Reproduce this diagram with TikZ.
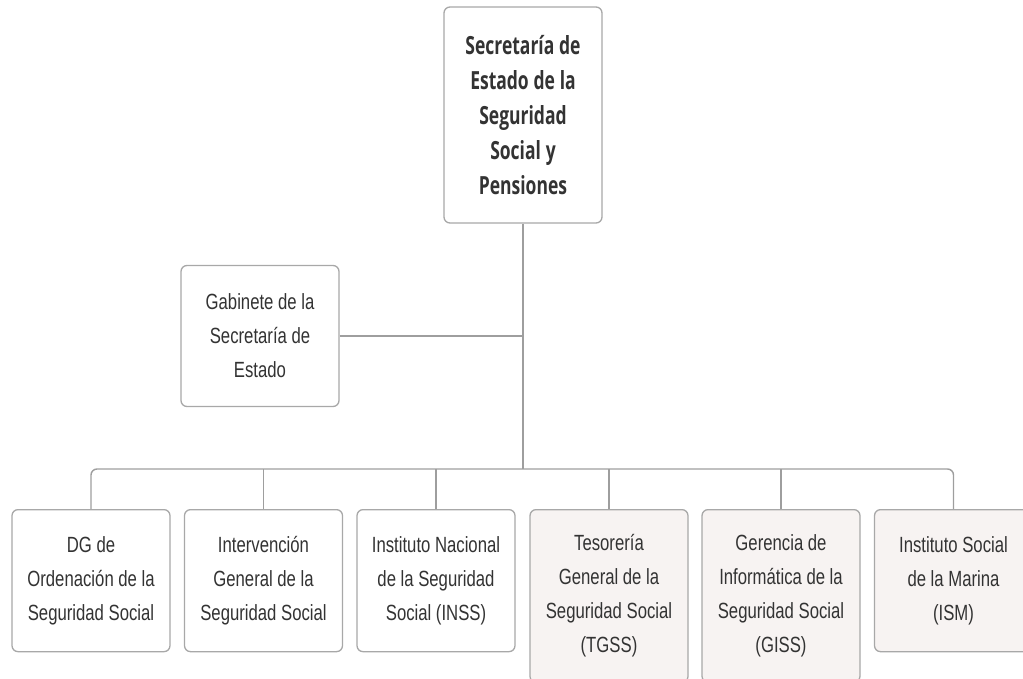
\documentclass[tikz,border=0pt]{standalone}
\usepackage{fontspec}
\setmainfont{Liberation Sans}
\newfontfamily\unitfont[FakeStretch=0.76]{Liberation Sans}
\newfontfamily\headfont[FakeStretch=0.70]{Open Sans}
\newcommand\unittext{\unitfont\fontsize{22}{34}\selectfont\spaceskip4.6pt\relax\xspaceskip4.6pt\relax}
\newcommand\headtext{\headfont\bfseries\fontsize{25}{35}\selectfont\spaceskip4.8pt\relax\xspaceskip4.8pt\relax}
\definecolor{txt}{HTML}{333333}
\definecolor{edge}{HTML}{A8A8A8}
\definecolor{wire}{HTML}{9E9E9E}
\definecolor{tint}{HTML}{F7F3F2}
\begin{document}
\begin{tikzpicture}[x=1pt,y=1pt,
unit/.style={draw=edge, line width=1.3pt, rounded corners=6pt, fill=white, text=txt, align=flush center, text width=150pt, inner xsep=4pt, inner ysep=25pt, font=\unittext},
agency/.style={unit, fill=tint},
link/.style={draw=wire, line width=1.4pt}]
\useasboundingbox (0,0) rectangle (1023,-679);
\node[unit, minimum height=216pt, font=\headtext] (sec) at (523,-115) {Secretaría de\\Estado de la\\Seguridad\\Social y\\Pensiones};
\node[unit, minimum height=141pt] (gab) at (260,-336) {Gabinete de la\\Secretaría de\\Estado};
\node[unit, anchor=north, minimum height=142pt] (dg) at (91,-509) {DG de\\Ordenación de la\\Seguridad Social};
\node[unit, anchor=north, minimum height=142pt] (igss) at (263.5,-509) {Intervención\\General de la\\Seguridad Social};
\node[unit, anchor=north, minimum height=142pt] (inss) at (436,-509) {Instituto Nacional\\de la Seguridad\\Social (INSS)};
\node[agency, anchor=north] (tgss) at (609,-509) {Tesorería\\General de la\\Seguridad Social\\(TGSS)};
\node[agency, anchor=north] (giss) at (781,-509) {Gerencia de\\Informática de la\\Seguridad Social\\(GISS)};
\node[agency, anchor=north, minimum height=142pt] (ism) at (953.5,-509) {Instituto Social\\de la Marina\\(ISM)};
\coordinate (bus) at (523,-469);
\draw[link] (sec.south)--(bus);
\draw[link] (gab.east)--(gab.east-|sec.south);
\draw[link, rounded corners=6pt] (dg.north)|-(bus)-|(ism.north);
\foreach \u in {igss,inss,tgss,giss}
  \draw[link] (\u.north)--(\u.north|-bus);
\end{tikzpicture}
\end{document}
